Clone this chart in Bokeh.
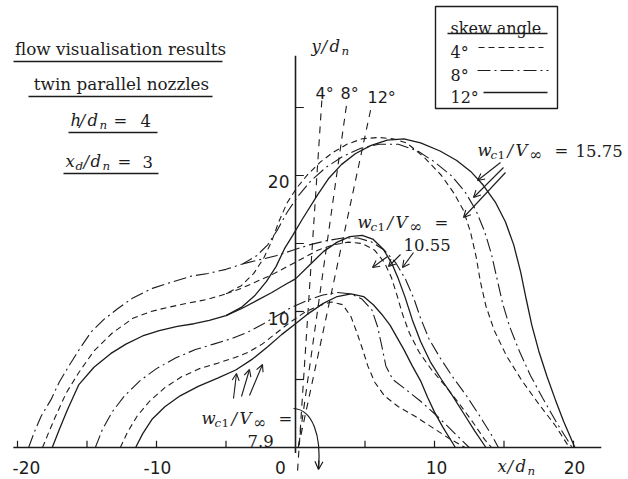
from bokeh.plotting import figure
from bokeh.models import Label, Arrow, OpenHead
from bokeh.embed import file_html
from bokeh.resources import INLINE

# ---------------- data (x/d_n , y/d_n) ----------------
# w_c1/V = 15.75
g15_s12_x = [-17.5,-17.0,-16.4,-15.6,-14.5,-13.3,-12.2,-11.0,-9.8,-8.5,-7.3,-6.2,-5.0,-3.9,-2.9,-2.1,-1.4,-0.8,-0.2,0.5,1.6,2.4,3.3,4.3,5.4,6.6,7.8,9.0,10.4,11.6,12.6,13.5,14.4,15.1,15.7,16.2,16.6,17.0,17.5,18.1,18.7,19.3,20.1]
g15_s12_y = [0.0,1.3,2.8,4.6,5.9,6.9,7.6,8.2,8.6,8.9,9.1,9.35,9.7,10.3,11.2,12.2,13.3,14.6,15.6,16.8,18.6,19.8,20.8,21.6,22.2,22.6,22.7,22.4,21.8,21.1,20.3,19.3,18.0,16.6,14.9,12.9,10.9,9.0,7.1,5.2,3.5,1.9,0.0]
g15_d4_x = [-18.2,-17.8,-17.3,-16.5,-15.6,-14.5,-13.2,-11.7,-10.4,-9.2,-7.8,-6.3,-5.0,-3.9,-3.0,-2.3,-1.7,-1.2,-0.6,0.1,0.9,1.8,2.7,3.7,4.8,6.0,7.0,8.0,9.3,10.5,11.4,12.1,12.6,13.0,13.3,13.7,14.3,15.2,16.3,17.5,18.7,19.7]
g15_d4_y = [0.0,1.0,2.2,4.0,5.5,7.1,8.4,9.5,10.0,10.3,10.6,10.9,11.3,11.9,12.8,13.9,15.2,16.6,18.0,19.1,20.1,21.0,21.7,22.3,22.7,22.8,22.7,22.4,21.3,20.0,18.7,17.4,15.8,14.0,12.2,10.4,8.6,6.7,4.9,3.2,1.6,0.0]
g15_dd8_x = [-19.2,-18.8,-18.3,-17.6,-17.0,-16.3,-15.5,-14.7,-13.8,-12.8,-11.7,-10.3,-8.8,-7.5,-6.3,-5.0,-3.8,-2.8,-2.0,-1.3,-0.6,0.2,1.1,2.2,3.4,4.7,6.0,7.4,8.8,10.0,11.2,12.2,13.0,13.6,14.1,14.5,14.9,15.4,16.1,16.9,17.8,18.8,19.9]
g15_dd8_y = [0.0,1.1,2.3,3.5,4.8,6.0,7.3,8.5,9.4,10.2,11.0,11.7,12.2,12.6,12.8,13.1,13.5,14.1,14.9,16.0,17.3,18.5,19.6,20.6,21.4,22.0,22.3,22.3,21.8,21.0,20.0,18.8,17.4,15.9,14.2,12.4,10.6,8.9,7.1,5.3,3.6,1.8,0.0]

# w_c1/V = 10.55 (left parts coincide with the 15.75 outlines)
g10_s12_x = [-5.0,-3.9,-2.8,-1.7,-0.7,0.0,1.0,2.0,3.0,3.9,4.8,5.6,6.3,6.9,7.4,7.9,8.4,9.0,9.7,10.5,11.3,12.1,12.9,13.7]
g10_s12_y = [9.7,10.2,10.8,11.4,12.0,12.4,13.4,14.4,15.1,15.5,15.6,15.3,14.6,13.6,12.4,11.0,9.4,7.8,6.3,5.0,3.8,2.5,1.2,0.0]
g10_d4_x = [-5.0,-3.9,-2.8,-1.7,-0.6,0.5,1.6,2.7,3.8,4.8,5.7,6.4,6.9,7.3,7.7,8.2,8.9,9.8,10.8,11.8,12.8,13.6,14.1]
g10_d4_y = [11.3,11.7,12.2,12.7,13.3,13.9,14.5,14.9,15.1,15.0,14.5,13.6,12.5,11.2,9.8,8.4,7.0,5.7,4.5,3.2,1.8,0.6,0.0]
g10_dd8_x = [-3.8,-2.6,-1.4,-0.2,1.0,2.2,3.4,4.5,5.5,6.4,7.2,7.9,8.5,9.0,9.6,10.4,11.3,12.3,13.2,14.0,14.6]
g10_dd8_y = [13.5,13.8,14.1,14.5,14.9,15.2,15.4,15.4,15.1,14.5,13.6,12.4,11.0,9.5,8.0,6.6,5.2,3.8,2.4,1.1,0.0]

# w_c1/V = 7.9
g7_s12_x = [-11.5,-11.0,-10.3,-9.4,-8.3,-7.0,-5.6,-4.3,-3.1,-2.0,-1.0,0.0,1.0,2.0,3.0,4.0,4.9,5.6,6.2,6.8,7.3,7.8,8.4,9.0,9.5,10.0,10.6,11.5]
g7_s12_y = [0.0,1.0,2.1,3.0,3.8,4.5,5.1,5.7,6.5,7.4,8.3,9.1,9.9,10.6,11.1,11.3,11.1,10.5,9.8,9.0,8.1,7.2,6.0,4.9,3.7,2.6,1.5,0.0]
g7_d4_x = [-12.6,-12.1,-11.4,-10.5,-9.4,-8.2,-6.9,-5.6,-4.4,-3.4,-2.4,-1.4,-0.4,0.6,1.6,2.6,3.4,4.0,4.4,4.8,5.2,5.7,6.4,7.4,8.6,9.8,11.0,12.2]
g7_d4_y = [0.0,1.1,2.3,3.4,4.4,5.2,5.8,6.2,6.6,7.0,7.6,8.4,9.2,9.9,10.4,10.7,10.5,9.6,8.5,7.3,6.0,4.8,3.8,3.0,2.3,1.5,0.7,0.0]
g7_dd8_x = [-14.4,-13.9,-13.2,-12.3,-11.2,-10.0,-8.6,-7.2,-5.9,-4.6,-3.4,-2.3,-1.3,-0.3,0.8,1.9,3.0,4.0,4.8,5.5,5.9,6.2,6.5,7.0,7.9,9.0,10.2,11.4,12.5]
g7_dd8_y = [0.0,1.3,2.6,3.8,4.9,5.8,6.6,7.2,7.6,8.0,8.5,9.1,9.7,10.3,10.8,11.2,11.4,11.3,10.9,10.1,8.9,7.5,6.0,5.0,4.3,3.4,2.3,1.1,0.0]

# skew (nozzle) lines: base point and upper end, one per skew angle
skew_labels = ["4°", "8°", "12°"]
skew_x0 = [0.15, 0.2, 0.2]
skew_y0 = [-1.7, 0.0, 0.0]
skew_x1 = [1.9, 3.7, 5.4]
skew_y1 = [25.6, 25.4, 24.8]

x_ticks = [-20, -15, -10, -5, 5, 10, 15, 20]
x_tick_labels = {-20: "-20", -10: "-10", 0: "0", 10: "10", 20: "20"}
y_ticks = [5, 10, 15, 20, 25]
y_tick_labels = {10: "10", 20: "20"}

# ---------------- figure ----------------
W, H = 628, 479
SX, SY = 13.9, 13.6           # px per unit
X0 = -295 / SX
X1 = X0 + W / SX
Y1 = 447 / SY
Y0 = Y1 - H / SY

def X(px):
    return X0 + px / SX

def Y(py):
    return Y1 - py / SY

p = figure(width=W, height=H, x_range=(X0, X1), y_range=(Y0, Y1),
           output_backend="svg", toolbar_location=None, min_border=0)
p.axis.visible = False
p.grid.visible = False
p.outline_line_color = None
p.background_fill_color = "white"
p.border_fill_color = "white"

INK = "#1c1c1c"
SERIF = "DejaVu Serif"
HAND = "DejaVu Sans"
DASH4 = "6 4"
DASH8 = "13 4 2 4"

# axes
p.line([-20.3, 22.0], [0, 0], line_color=INK, line_width=1.6)
p.line([0, 0], [-0.4, 28.8], line_color=INK, line_width=1.6)
p.segment(x0=x_ticks, y0=[0] * len(x_ticks), x1=x_ticks, y1=[0.5] * len(x_ticks),
          line_color=INK, line_width=1.2)
p.segment(x0=[0] * len(y_ticks), y0=y_ticks, x1=[0.6] * len(y_ticks), y1=y_ticks,
          line_color=INK, line_width=1.2)

# skew lines
p.segment(x0=skew_x0, y0=skew_y0, x1=skew_x1, y1=skew_y1, line_color=INK,
          line_width=1.1, line_dash="7 6")

# outlines
for xs, ys in [(g15_s12_x, g15_s12_y), (g10_s12_x, g10_s12_y), (g7_s12_x, g7_s12_y)]:
    p.line(xs, ys, line_color=INK, line_width=1.3)
for xs, ys in [(g15_d4_x, g15_d4_y), (g10_d4_x, g10_d4_y), (g7_d4_x, g7_d4_y)]:
    p.line(xs, ys, line_color=INK, line_width=1.1, line_dash=DASH4)
for xs, ys in [(g15_dd8_x, g15_dd8_y), (g10_dd8_x, g10_dd8_y), (g7_dd8_x, g7_dd8_y)]:
    p.line(xs, ys, line_color=INK, line_width=1.1, line_dash=DASH8)

# ---------------- texts ----------------
def lab(px, py, text, size=16, font=SERIF, style="normal", align="left"):
    p.add_layout(Label(x=X(px), y=Y(py), text=text, text_font=font,
                       text_font_size=f"{size}px", text_font_style=style,
                       text_align=align, text_baseline="alphabetic",
                       text_color=INK))

def mathrun(px, py, parts, size=16.5):
    # parts: (offset_px, text, kind, scale)
    for off, txt, kind, *sc in parts:
        sub = kind.startswith("s")
        fs = size * (sc[0] if sc else (0.72 if sub else 1.0))
        yy = py + (size * 0.27 if sub else 0)
        lab(px + off, yy, txt, size=round(fs, 1),
            style="italic" if "i" in kind else "normal")

def wlabel(px, py):
    mathrun(px, py, [(0, "w", "i"), (13, "c", "si"), (20, "1", "sr"), (30, "/", "i"),
                     (38, "V", "i"), (52, "∞", "sr", 0.95), (77, "=", "r")])

# title box
lab(120, 48, "flow visualisation results", 16.8, align="center")
lab(121, 83, "twin parallel nozzles", 16.8, align="center")
mathrun(70, 120, [(0, "h", "i"), (9, "/", "i"), (17, "d", "i"), (29, "n", "si"),
                  (43, "=", "r"), (70, "4", "r")])
mathrun(65, 161, [(0, "x", "i"), (10, "d", "si"), (18, "/", "i"), (25, "d", "i"),
                  (37, "n", "si"), (52, "=", "r"), (77, "3", "r")])
p.segment(x0=[X(13), X(28), X(68), X(63)], y0=[Y(61), Y(96), Y(132), Y(173)],
          x1=[X(222), X(212), X(157), X(158)], y1=[Y(61), Y(96), Y(132), Y(173)],
          line_color=INK, line_width=1.6)

# axis titles
mathrun(311, 46, [(0, "y", "i"), (10, "/", "i"), (18, "d", "i"), (30, "n", "si")])
mathrun(497, 466, [(0, "x", "i"), (10, "/", "i"), (18, "d", "i"), (30, "n", "si")])

# tick labels
for v, t in x_tick_labels.items():
    cx = {-20: 26, -10: 157, 0: 280, 10: 436, 20: 574}[v]
    lab(cx, 467, t, 17, font=HAND, align="center")
for v, t in y_tick_labels.items():
    by = {10: 318, 20: 181}[v]
    lab(289, by, t, 17, font=HAND, align="right")

# skew line labels
for t, (px, py) in zip(skew_labels, [(315, 93), (340, 93), (367, 97)]):
    lab(px, py, t, 16, font=HAND)

# velocity-ratio labels
wlabel(477, 150)
lab(575, 150, "15.75", 16.5)
wlabel(357, 222)
lab(403, 244, "10.55", 16.5)
wlabel(201, 418)
lab(247, 440, "7.9", 16.5)

# arrows to the outlines
def arrow(tx, ty, hx, hy):
    p.add_layout(Arrow(end=OpenHead(size=7, line_width=1.1, line_color=INK),
                       x_start=X(tx), y_start=Y(ty), x_end=X(hx), y_end=Y(hy),
                       line_width=1.1, line_color=INK))

for t, h in [((500, 162), (477, 180)), ((503, 167), (473, 197)), ((505, 172), (463, 217))]:
    arrow(*t, *h)
for t, h in [((387, 256), (372, 267)), ((400, 254), (388, 266)), ((413, 252), (402, 267))]:
    arrow(*t, *h)
for t, h in [((233, 398), (236, 373)), ((241, 396), (249, 369)), ((249, 395), (262, 364))]:
    arrow(*t, *h)

# curved arrow from the 7.9 label
p.bezier(x0=[X(293)], y0=[Y(408)], x1=[X(318)], y1=[Y(468)],
         cx0=[X(312)], cy0=[Y(409)], cx1=[X(321)], cy1=[Y(435)],
         line_color=INK, line_width=1.2)
p.add_layout(Arrow(end=OpenHead(size=8, line_width=1.2, line_color=INK),
                   x_start=X(318.5), y_start=Y(460), x_end=X(318), y_end=Y(469),
                   line_width=1.2, line_color=INK))

# legend box
p.quad(left=[X(435)], right=[X(557)], top=[Y(6)], bottom=[Y(108)],
       fill_color=None, line_color=INK, line_width=1.4)
lab(450, 28, "skew angle", 16)
p.line([X(447), X(547)], [Y(33), Y(33)], line_color=INK, line_width=1.3)
lab(450, 52, skew_labels[0], 16)
lab(450, 75, skew_labels[1], 16)
lab(450, 97, skew_labels[2], 16)
p.line([X(478), X(543)], [Y(47), Y(47)], line_color=INK, line_width=1.1, line_dash=DASH4)
p.line([X(477), X(548)], [Y(70), Y(70)], line_color=INK, line_width=1.1, line_dash=DASH8)
p.line([X(483), X(547)], [Y(92), Y(92)], line_color=INK, line_width=1.3)

open("out.html", "w").write(file_html(p, INLINE))
